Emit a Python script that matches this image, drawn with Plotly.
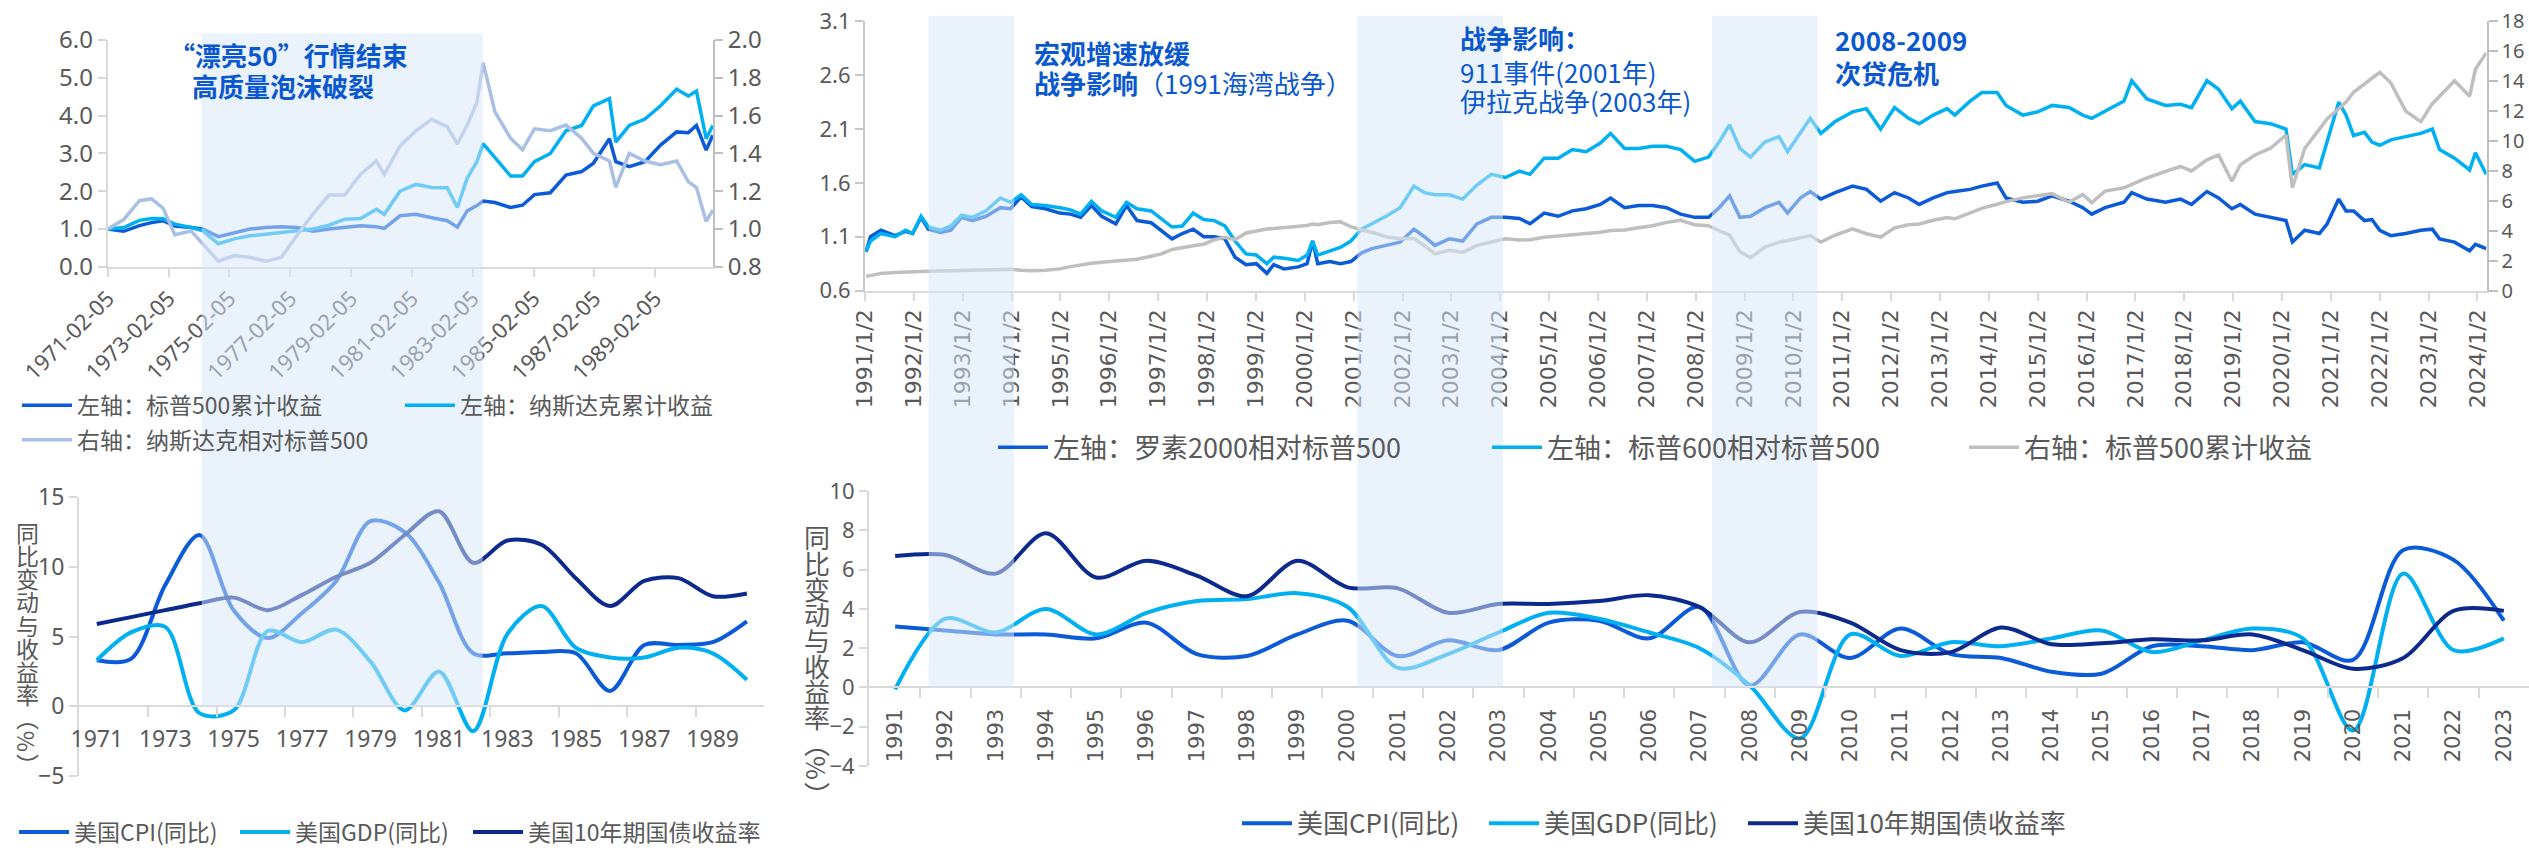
import plotly.graph_objects as go

W, H = 2529, 854

# ---------------- top-left: 1971-1990 (left axis cumulative, right axis relative)
tl_dates = ['1971-02-05', '1971-08-15', '1972-02-20', '1972-07-15', '1972-12-01', '1973-04-20',
            '1973-11-01', '1974-03-20', '1974-09-25', '1975-04-05', '1975-10-10', '1976-04-15',
            '1976-10-20', '1977-05-01', '1977-11-05', '1978-05-15', '1978-11-20', '1979-05-30',
            '1979-12-05', '1980-03-10', '1980-09-15', '1981-03-25', '1981-10-01', '1982-04-05',
            '1982-08-05', '1982-12-01', '1983-03-27', '1983-06-10', '1983-10-30', '1984-05-05',
            '1984-09-25', '1985-02-15', '1985-08-25', '1986-03-01', '1986-09-05', '1987-01-25',
            '1987-08-05', '1987-10-20', '1988-03-30', '1988-10-05', '1989-04-10', '1989-10-20',
            '1990-03-10', '1990-06-15', '1990-10-10', '1990-12-28']
tl_spx = [1.00, 0.94, 1.09, 1.17, 1.22, 1.08, 1.04, 1.00, 0.80, 0.91,
          1.00, 1.04, 1.06, 1.04, 0.94, 1.00, 1.04, 1.09, 1.06, 1.02,
          1.35, 1.39, 1.30, 1.22, 1.05, 1.48, 1.62, 1.74, 1.70, 1.57,
          1.63, 1.91, 1.96, 2.43, 2.52, 2.74, 3.39, 2.78, 2.65, 2.78,
          3.22, 3.57, 3.55, 3.74, 3.09, 3.48]
tl_nasdaq = [1.00, 1.04, 1.23, 1.28, 1.27, 1.13, 1.04, 0.96, 0.61, 0.74,
             0.82, 0.87, 0.92, 0.96, 1.00, 1.10, 1.26, 1.28, 1.52, 1.39,
             2.00, 2.18, 2.10, 2.09, 1.57, 2.35, 2.78, 3.26, 2.90, 2.40,
             2.40, 2.78, 3.00, 3.60, 3.74, 4.26, 4.45, 3.30, 3.74, 3.91,
             4.26, 4.70, 4.52, 4.65, 3.39, 3.74]
tl_rel = [1.00, 1.05, 1.15, 1.16, 1.11, 0.97, 0.99, 0.92, 0.83, 0.86,
          0.85, 0.83, 0.85, 0.97, 1.08, 1.18, 1.18, 1.29, 1.36, 1.29,
          1.44, 1.52, 1.58, 1.54, 1.45, 1.55, 1.67, 1.88, 1.62, 1.48,
          1.42, 1.53, 1.52, 1.55, 1.48, 1.40, 1.36, 1.22, 1.40, 1.36,
          1.34, 1.36, 1.25, 1.22, 1.04, 1.10]
tl_ticks = ['1971-02-05', '1973-02-05', '1975-02-05', '1977-02-05', '1979-02-05',
            '1981-02-05', '1983-02-05', '1985-02-05', '1987-02-05', '1989-02-05']

# ---------------- bottom-left: annual 1971-1990
bl_years = list(range(1971, 1991))
bl_cpi = [3.3, 3.4, 8.7, 12.3, 6.9, 4.9, 6.7, 9.0, 13.3, 12.5,
          8.9, 3.8, 3.8, 3.9, 3.8, 1.1, 4.4, 4.4, 4.6, 6.1]
bl_gdp = [3.3, 5.3, 5.7, -0.5, -0.3, 5.4, 4.6, 5.5, 3.2, -0.3,
          2.5, -1.8, 5.2, 7.2, 4.2, 3.5, 3.5, 4.2, 3.8, 1.9]
bl_yield = [5.9, 6.4, 6.9, 7.4, 7.8, 6.9, 8.0, 9.3, 10.3, 12.3,
            14.0, 10.3, 11.9, 11.6, 9.2, 7.2, 9.0, 9.2, 7.9, 8.1]
bl_labels = [1971, 1973, 1975, 1977, 1979, 1981, 1983, 1985, 1987, 1989]

# ---------------- top-right: 1991-2024
tr_dates = ['1991-01-10', '1991-02-12', '1991-05-01', '1991-08-15', '1991-11-01', '1991-12-24',
            '1992-02-25', '1992-04-20', '1992-07-20', '1992-10-05', '1992-12-24', '1993-03-15',
            '1993-06-25', '1993-10-10', '1993-12-25', '1994-03-15', '1994-06-01', '1994-09-12',
            '1994-12-28', '1995-03-18', '1995-06-02', '1995-08-22', '1995-11-06', '1996-02-20',
            '1996-05-10', '1996-07-27', '1996-11-10', '1997-01-26', '1997-04-15', '1997-07-01',
            '1997-09-20', '1997-12-08', '1998-02-25', '1998-05-15', '1998-07-30', '1998-10-20',
            '1999-01-05', '1999-03-25', '1999-05-15', '1999-08-02', '1999-11-15', '2000-01-20',
            '2000-03-01', '2000-04-08', '2000-07-08', '2000-09-24', '2000-12-12', '2001-03-02',
            '2001-05-18', '2001-09-01', '2001-12-15',
            '2002-03-28', '2002-06-15', '2002-09-01', '2002-12-18', '2003-03-28', '2003-07-12',
            '2003-10-28', '2004-02-10', '2004-05-25', '2004-08-12', '2004-11-26', '2005-03-10',
            '2005-06-25', '2005-10-06', '2006-01-20', '2006-04-06', '2006-07-20', '2006-11-02',
            '2007-02-15', '2007-05-30', '2007-09-12', '2007-12-26', '2008-04-08', '2008-06-26',
            '2008-09-12', '2008-11-28', '2009-02-16', '2009-06-02', '2009-09-16', '2009-11-20',
            '2010-02-22', '2010-05-08', '2010-07-26', '2010-11-10', '2011-03-20', '2011-07-02',
            '2011-10-16', '2012-01-28', '2012-05-12', '2012-07-30', '2012-11-12', '2013-02-24',
            '2013-04-22', '2013-08-15', '2013-11-10', '2014-03-05', '2014-05-10', '2014-09-12',
            '2015-01-02', '2015-04-20', '2015-08-25', '2015-12-05', '2016-02-10', '2016-05-20',
            '2016-10-08', '2016-12-05', '2017-03-28', '2017-08-15', '2017-12-05', '2018-02-25',
            '2018-06-20', '2018-09-15', '2018-12-24', '2019-02-25', '2019-06-15', '2019-10-08',
            '2020-02-01', '2020-03-20', '2020-06-20', '2020-10-08', '2020-12-05', '2021-03-01',
            '2021-04-25', '2021-06-20', '2021-09-10', '2021-11-05', '2022-01-02', '2022-03-25',
            '2022-07-15', '2022-11-05', '2023-01-30', '2023-03-25', '2023-07-15', '2023-11-05',
            '2023-12-18', '2024-03-08']
tr_russell = [0.96, 1.10, 1.16, 1.11, 1.15, 1.13, 1.28, 1.17, 1.14, 1.16,
              1.28, 1.25, 1.29, 1.37, 1.36, 1.47, 1.38, 1.36, 1.32, 1.31,
              1.28, 1.39, 1.29, 1.22, 1.39, 1.25, 1.23, 1.16, 1.08, 1.13,
              1.17, 1.10, 1.10, 1.08, 0.91, 0.84, 0.85, 0.76, 0.84, 0.80,
              0.82, 0.85, 1.06, 0.85, 0.87, 0.85, 0.87, 0.95, 0.99, 1.02,
              1.05,
              1.17, 1.10, 1.02, 1.08, 1.06, 1.22, 1.28, 1.28, 1.27, 1.22,
              1.32, 1.29, 1.34, 1.36, 1.40, 1.46, 1.37, 1.39, 1.39, 1.37,
              1.31, 1.28, 1.28, 1.37, 1.48, 1.28, 1.29, 1.37, 1.42, 1.32,
              1.46, 1.52, 1.45, 1.51, 1.57, 1.54, 1.43, 1.51, 1.46, 1.40,
              1.46, 1.51,
              1.52, 1.54, 1.57, 1.60, 1.46, 1.42, 1.43, 1.48, 1.43, 1.37,
              1.31, 1.37, 1.42, 1.51, 1.45, 1.42, 1.45, 1.40, 1.52, 1.46,
              1.36, 1.40, 1.31, 1.28, 1.25, 1.05, 1.16, 1.13, 1.22, 1.45,
              1.34, 1.34, 1.25, 1.26, 1.16, 1.11, 1.13, 1.16, 1.17, 1.08,
              1.05, 0.97, 1.03, 0.99]
tr_sp600 = [0.96, 1.06, 1.13, 1.10, 1.16, 1.13, 1.29, 1.19, 1.16, 1.20,
            1.30, 1.28, 1.34, 1.46, 1.42, 1.49, 1.40, 1.39, 1.37, 1.35,
            1.31, 1.43, 1.34, 1.28, 1.42, 1.36, 1.34, 1.27, 1.19, 1.20,
            1.32, 1.26, 1.25, 1.20, 1.06, 0.94, 0.93, 0.85, 0.91, 0.90,
            0.88, 0.93, 1.06, 0.93, 0.97, 1.00, 1.06, 1.17, 1.22, 1.29,
            1.37,
            1.57, 1.51, 1.49, 1.49, 1.45, 1.58, 1.68, 1.65, 1.71, 1.68,
            1.83, 1.83, 1.91, 1.89, 1.97, 2.06, 1.92, 1.92, 1.94, 1.94,
            1.91, 1.80, 1.84, 1.98, 2.14, 1.92, 1.84, 1.98, 2.03, 1.89,
            2.07, 2.20, 2.06, 2.17, 2.26, 2.29, 2.10, 2.30, 2.20, 2.15,
            2.23, 2.29,
            2.23, 2.36, 2.44, 2.44, 2.32, 2.23, 2.26, 2.32, 2.30, 2.23,
            2.20, 2.27, 2.36, 2.55, 2.38, 2.32, 2.33, 2.30, 2.55, 2.47,
            2.29, 2.36, 2.17, 2.15, 2.10, 1.68, 1.77, 1.74, 1.98, 2.35,
            2.23, 2.04, 2.07, 1.98, 1.95, 2.00, 2.03, 2.06, 2.10, 1.91,
            1.83, 1.72, 1.88, 1.68]
tr_spx = [0.95, 1.00, 1.15, 1.20, 1.24, 1.26, 1.28, 1.29, 1.31, 1.33,
          1.35, 1.38, 1.41, 1.42, 1.43, 1.36, 1.32, 1.36, 1.45, 1.60,
          1.72, 1.82, 1.90, 1.98, 2.02, 2.10, 2.30, 2.45, 2.75, 2.90,
          3.00, 3.10, 3.40, 3.57, 3.40, 3.85, 4.00, 4.12, 4.15, 4.20,
          4.25, 4.35, 4.45, 4.40, 4.55, 4.60, 4.27, 4.05, 3.90, 3.60,
          3.46,
          3.50, 3.00, 2.45, 2.69, 2.55, 3.02, 3.24, 3.46, 3.38, 3.40,
          3.57, 3.65, 3.72, 3.79, 3.90, 4.01, 4.05, 4.20, 4.34, 4.56,
          4.70, 4.40, 4.34, 4.00, 3.70, 2.60, 2.20, 2.91, 3.24, 3.35,
          3.55, 3.68, 3.24, 3.70, 4.12, 3.80, 3.57, 4.20, 4.40, 4.45,
          4.70, 4.89,
          4.80, 5.20, 5.50, 5.77, 5.95, 6.20, 6.35, 6.48, 5.90, 6.43,
          5.88, 6.65, 6.87, 7.10, 7.53, 7.97, 8.30, 8.00, 8.74, 9.07,
          7.31, 8.41, 9.07, 9.52, 10.40, 6.87, 9.50, 10.80, 11.50, 12.16,
          12.60, 13.26, 13.80, 14.20, 14.60, 13.90, 12.00, 11.30, 12.50, 13.00,
          14.03, 13.00, 14.80, 15.90]
tr_tickvals = ['%d-01-02' % y for y in range(1991, 2025)]
tr_ticktext = ['%d/1/2' % y for y in range(1991, 2025)]

# ---------------- bottom-right: annual 1991-2023
br_years = list(range(1991, 2024))
br_cpi = [3.1, 2.9, 2.7, 2.7, 2.5, 3.3, 1.7, 1.6, 2.7, 3.4,
          1.6, 2.4, 1.9, 3.3, 3.4, 2.5, 4.1, 0.1, 2.7, 1.5,
          3.0, 1.7, 1.5, 0.8, 0.7, 2.1, 2.1, 1.9, 2.3, 1.4,
          7.0, 6.5, 3.4]
br_gdp = [-0.1, 3.5, 2.8, 4.0, 2.7, 3.8, 4.4, 4.5, 4.8, 4.1,
          1.0, 1.7, 2.8, 3.8, 3.5, 2.8, 2.0, 0.1, -2.6, 2.7,
          1.6, 2.3, 2.1, 2.5, 2.9, 1.8, 2.4, 3.0, 2.5, -2.2,
          5.8, 1.9, 2.5]
br_yield = [6.7, 6.75, 5.8, 7.85, 5.6, 6.45, 5.7, 4.65, 6.45, 5.1,
            5.05, 3.8, 4.25, 4.25, 4.4, 4.7, 4.1, 2.3, 3.85, 3.3,
            1.9, 1.8, 3.05, 2.2, 2.25, 2.45, 2.4, 2.7, 1.9, 0.95,
            1.5, 3.9, 3.9]

# shaded periods (on the top date axes)
tl_band = ('1974-03-10', '1983-06-05')
tr_bands = [('1992-04-22', '1994-01-20'), ('2001-01-30', '2004-01-22'), ('2008-05-04', '2010-07-01')]

# colours / fonts
BLUE = '#0B5BD9'
CYAN = '#00B0F0'
NAVY = '#0C2A8E'
GRAY = '#BFBFBF'
STEEL = '#A9BFE3'
AX = '#D9D9D9'
TXT = '#595959'
NOTE = '#0A58D0'
CJK = 'Noto Sans CJK SC'
NUM = 'Liberation Sans Narrow, Noto Sans, sans-serif'
LEG = 'Liberation Sans Narrow, Noto Sans CJK SC'

# domains in paper units (pixel positions / canvas)
TL_X = [107.8 / W, 713 / W]
TL_Y = [1 - 270 / H, 1 - 40.5 / H]
BL_X = [79 / W, 764 / W]
BL_Y = [1 - 785 / H, 1 - 503.3 / H]
TR_X = [865 / W, 2486.5 / W]
TR_Y = [1 - 294 / H, 1 - 21.7 / H]
BR_X = [869 / W, 1.0]
BR_Y = [1 - 775 / H, 1 - 497 / H]
BL_R = [-5, 15]
BR_R = [-4, 10]
bl_zero = BL_Y[0] + (0 - BL_R[0]) / (BL_R[1] - BL_R[0]) * (BL_Y[1] - BL_Y[0])
br_zero = BR_Y[0] + (0 - BR_R[0]) / (BR_R[1] - BR_R[0]) * (BR_Y[1] - BR_Y[0])


def axis(**kw):
    d = dict(showgrid=False, zeroline=False, showline=True, linecolor=AX, linewidth=2,
             ticks='outside', ticklen=8, tickwidth=2, tickcolor=AX,
             tickfont=dict(family=NUM, size=24, color=TXT))
    d.update(kw)
    return d


fig = go.Figure()

# top-left traces
fig.add_trace(go.Scatter(x=tl_dates, y=tl_spx, mode='lines', name='左轴：标普500累计收益',
                         line=dict(color=BLUE, width=3.5), xaxis='x', yaxis='y', legend='legend'))
fig.add_trace(go.Scatter(x=tl_dates, y=tl_nasdaq, mode='lines', name='左轴：纳斯达克累计收益',
                         line=dict(color=CYAN, width=3.5), xaxis='x', yaxis='y', legend='legend2'))
fig.add_trace(go.Scatter(x=tl_dates, y=tl_rel, mode='lines', name='右轴：纳斯达克相对标普500',
                         line=dict(color=STEEL, width=3.5), xaxis='x', yaxis='y2', legend='legend3'))

# bottom-left traces
for vals, name, col, lg in [(bl_cpi, '美国CPI(同比)', BLUE, 'legend4'),
                            (bl_gdp, '美国GDP(同比)', CYAN, 'legend5'),
                            (bl_yield, '美国10年期国债收益率', NAVY, 'legend6')]:
    fig.add_trace(go.Scatter(x=bl_years, y=vals, mode='lines', name=name,
                             line=dict(color=col, width=4, shape='spline', smoothing=0.9),
                             xaxis='x2', yaxis='y3', legend=lg))

# top-right traces
fig.add_trace(go.Scatter(x=tr_dates, y=tr_russell, mode='lines', name='左轴：罗素2000相对标普500',
                         line=dict(color=BLUE, width=3.5), xaxis='x3', yaxis='y4', legend='legend7'))
fig.add_trace(go.Scatter(x=tr_dates, y=tr_sp600, mode='lines', name='左轴：标普600相对标普500',
                         line=dict(color=CYAN, width=3.5), xaxis='x3', yaxis='y4', legend='legend8'))
fig.add_trace(go.Scatter(x=tr_dates, y=tr_spx, mode='lines', name='右轴：标普500累计收益',
                         line=dict(color=GRAY, width=3.5), xaxis='x3', yaxis='y5', legend='legend9'))

# bottom-right traces
for vals, name, col, lg in [(br_cpi, '美国CPI(同比)', BLUE, 'legend10'),
                            (br_gdp, '美国GDP(同比)', CYAN, 'legend11'),
                            (br_yield, '美国10年期国债收益率', NAVY, 'legend12')]:
    fig.add_trace(go.Scatter(x=br_years, y=vals, mode='lines', name=name,
                             line=dict(color=col, width=4, shape='spline', smoothing=0.9),
                             xaxis='x4', yaxis='y6', legend=lg))

# legends: one per entry, placed by line start (px) and row centre (px)
leg_pos = {
    'legend': (22, 410, 23), 'legend2': (405, 410, 23), 'legend3': (22, 445, 23),
    'legend4': (19, 842, 23), 'legend5': (240, 842, 23), 'legend6': (473, 842, 23),
    'legend7': (998, 453, 27), 'legend8': (1492, 453, 27), 'legend9': (1969, 453, 27),
    'legend10': (1242, 833, 26), 'legend11': (1489, 833, 26), 'legend12': (1748, 833, 26),
}
legends = {}
for key, (lx, ly, fs) in leg_pos.items():
    legends[key] = dict(x=(lx - 5) / W, y=1 - ly / H, xanchor='left', yanchor='middle',
                        orientation='h', bgcolor='rgba(0,0,0,0)', itemwidth=50,
                        font=dict(family=LEG, size=fs, color=TXT))

# annotations
notes = [
    ('<b>“漂亮50”行情结束</b>', 288, 55, 'center'),
    ('<b>高质量泡沫破裂</b>', 283, 87, 'center'),
    ('<b>宏观增速放缓</b>', 1032, 53, 'left'),
    ('<b>战争影响</b>（1991海湾战争）', 1032, 83, 'left'),
    ('<b>战争影响：</b>', 1458, 38, 'left'),
    ('911事件(2001年)', 1458, 72, 'left'),
    ('伊拉克战争(2003年)', 1458, 102, 'left'),
    ('<b>2008-2009</b>', 1833, 40, 'left'),
    ('<b>次贷危机</b>', 1833, 73, 'left'),
]
annotations = []
for txt, ax_, ay_, anc in notes:
    annotations.append(dict(text=txt, x=ax_ / W, y=1 - ay_ / H, xref='paper', yref='paper',
                            xanchor=anc, yanchor='middle', showarrow=False,
                            font=dict(family=CJK, size=26, color=NOTE)))

ytitle = ['同', '比', '变', '动', '与', '收', '益', '率', '︵', '%', '︶']
for tx, ty0, step, fs in [(27, 538, 23.5, 23), (817, 543, 26, 26)]:
    for i, ch in enumerate(ytitle):
        annotations.append(dict(text=ch, x=tx / W, y=1 - (ty0 + i * step) / H,
                                xref='paper', yref='paper', xanchor='center', yanchor='middle',
                                showarrow=False, textangle=90 if ch == '%' else 0,
                                font=dict(family=CJK, size=fs, color=TXT)))

# translucent bands drawn above the lines (they wash out what they cover)
BAND = 'rgba(214,230,249,0.52)'
shapes = [dict(type='rect', xref='x', yref='paper', x0=tl_band[0], x1=tl_band[1],
               y0=bl_zero, y1=1 - 34 / H, fillcolor=BAND, line=dict(width=0), layer='above')]
for a, b in tr_bands:
    shapes.append(dict(type='rect', xref='x3', yref='paper', x0=a, x1=b,
                       y0=br_zero, y1=1 - 16 / H, fillcolor=BAND, line=dict(width=0), layer='above'))

layout = dict(
    width=W, height=H, margin=dict(l=0, r=0, t=0, b=0), template='none',
    paper_bgcolor='white', plot_bgcolor='rgba(0,0,0,0)', showlegend=True,
    xaxis=axis(domain=TL_X, anchor='y', type='date', range=['1971-02-05', '1990-12-31'],
               tickmode='array', tickvals=tl_ticks, ticktext=tl_ticks, tickangle=-45,
               tickfont=dict(family=NUM, size=22, color=TXT)),
    yaxis=axis(domain=TL_Y, anchor='x', range=[0, 6], tickmode='linear', tick0=0, dtick=1,
               tickformat='.1f'),
    yaxis2=axis(overlaying='y', side='right', anchor='x', range=[0.8, 2.0], tickmode='linear',
                tick0=0.8, dtick=0.2, tickformat='.1f', linecolor=GRAY, tickcolor=GRAY),
    xaxis2=axis(domain=BL_X, anchor='free', position=bl_zero, range=[1970.48, 1990.5],
                tickmode='array', tickvals=bl_labels, ticktext=[str(v) for v in bl_labels],
                ticklen=12, tickcolor='rgba(0,0,0,0)', tickfont=dict(family=NUM, size=23, color=TXT),
                minor=dict(tickmode='array', tickvals=[v + 1.5 for v in bl_labels[:-1]],
                           ticks='outside', ticklen=10, tickwidth=2, tickcolor=AX)),
    yaxis3=axis(domain=BL_Y, anchor='x2', range=BL_R, tickmode='linear', tick0=-5, dtick=5,
                tickfont=dict(family=NUM, size=23, color=TXT)),
    xaxis3=axis(domain=TR_X, anchor='y4', type='date', range=['1991-01-02', '2024-03-10'],
                tickmode='array', tickvals=tr_tickvals, ticktext=tr_ticktext, tickangle=-90,
                tickfont=dict(family='DejaVu Sans', size=22, color=TXT)),
    yaxis4=axis(domain=TR_Y, anchor='x3', range=[0.6, 3.1], tickmode='array',
                tickvals=[0.6, 1.1, 1.6, 2.1, 2.6, 3.1], tickformat='.1f', linecolor='#C8C8C8',
                tickcolor='#C8C8C8', tickfont=dict(family=NUM, size=22, color=TXT)),
    yaxis5=axis(overlaying='y4', side='right', anchor='x3', range=[0, 18], tickmode='linear',
                tick0=0, dtick=2, linecolor=GRAY, tickcolor=GRAY, ticklen=9,
                tickfont=dict(family=NUM, size=20, color=TXT)),
    xaxis4=axis(domain=BR_X, anchor='free', position=br_zero, range=[1990.48, 2023.5],
                tickmode='array', tickvals=br_years, ticktext=[str(v) for v in br_years],
                tickangle=-90, ticklen=12, tickcolor='rgba(0,0,0,0)',
                tickfont=dict(family='DejaVu Sans', size=21, color=TXT),
                minor=dict(tickmode='array', tickvals=[v + 0.5 for v in br_years[:-1]],
                           ticks='outside', ticklen=10, tickwidth=2, tickcolor=AX)),
    yaxis6=axis(domain=BR_Y, anchor='x4', range=BR_R, tickmode='linear', tick0=-4, dtick=2,
                tickfont=dict(family=NUM, size=22, color=TXT)),
    annotations=annotations,
    shapes=shapes,
)
layout.update(legends)
fig.update_layout(**layout)

# the page body keeps its default 8px margin otherwise, pushing the figure off the window
fig.write_html('out.html', config={'displayModeBar': False},
               post_script="document.body.style.margin='0';")
